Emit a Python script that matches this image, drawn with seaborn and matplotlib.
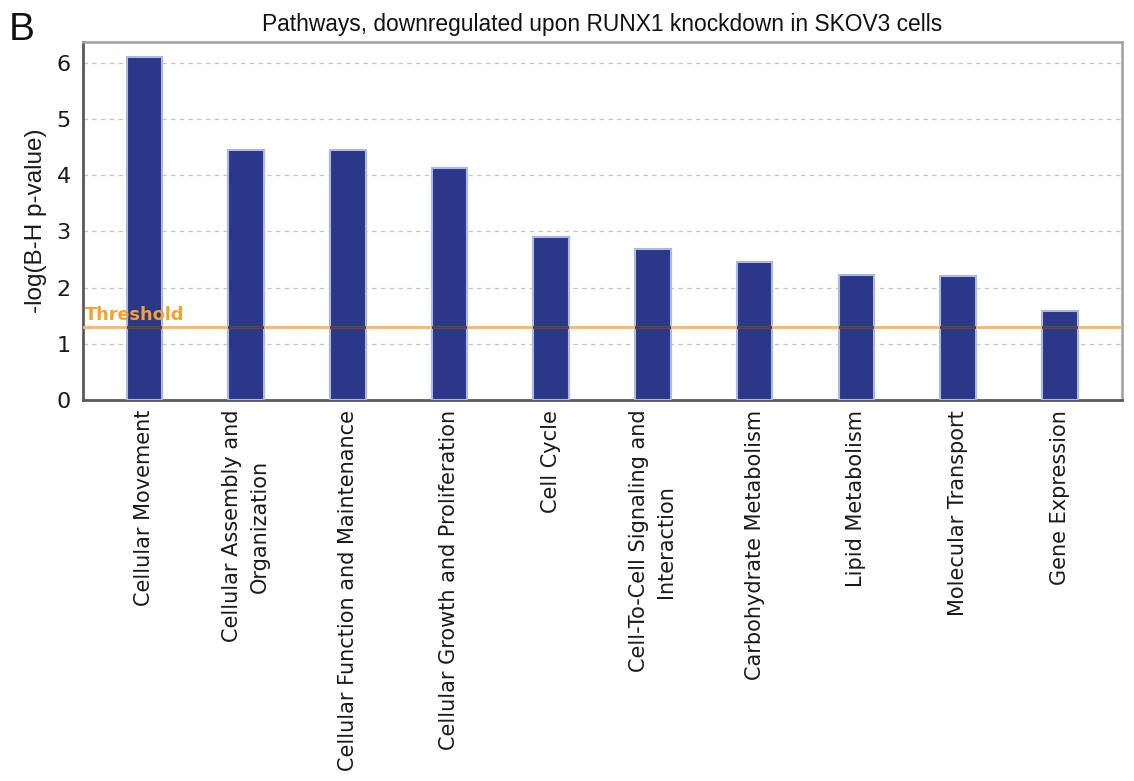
import matplotlib
matplotlib.use("Agg")
import matplotlib.pyplot as plt
import seaborn as sns
import pandas as pd

# Enriched functional categories and their -log10(B-H adjusted p-value)
categories = [
    "Cellular Movement",
    "Cellular Assembly and\nOrganization",
    "Cellular Function and Maintenance",
    "Cellular Growth and Proliferation",
    "Cell Cycle",
    "Cell-To-Cell Signaling and\nInteraction",
    "Carbohydrate Metabolism",
    "Lipid Metabolism",
    "Molecular Transport",
    "Gene Expression",
]
neg_log_p = [6.10, 4.45, 4.45, 4.12, 2.90, 2.69, 2.45, 2.22, 2.21, 1.59]
threshold = 1.30
y_ticks = [0, 1, 2, 3, 4, 5, 6]

title = "Pathways, downregulated upon RUNX1 knockdown in SKOV3 cells"
y_label = "-log(B-H p-value)"
panel = "B"

sns.set_theme(style="white")
plt.rcParams["font.family"] = ["DejaVu Sans"]

df = pd.DataFrame({"category": categories, "value": neg_log_p})

fig = plt.figure(figsize=(11.34, 7.81), dpi=100)
ax = fig.add_axes([0.0735, 0.4878, 0.9157, 0.4588])

sns.barplot(data=df, x="category", y="value", ax=ax, width=0.35,
            color="#2b3788", saturation=1, edgecolor="#a9b8e6",
            linewidth=1.5, zorder=3)

ax.set_xlim(-0.60, 9.61)
ax.set_ylim(0, 6.375)
ax.set_yticks(y_ticks)
ax.set_yticklabels([str(t) for t in y_ticks], fontsize=16, color="#1a1a1a")
ax.tick_params(axis="y", length=0, pad=9)
ax.tick_params(axis="x", length=0, pad=7)

ax.set_xticks(range(len(categories)))
ax.set_xticklabels(categories, rotation=90, ha="center", va="top",
                   multialignment="center", fontsize=15, linespacing=1.45,
                   color="#1a1a1a")
ax.set_xlabel("")
ax.set_ylabel(y_label, fontsize=17.5, family=["Liberation Sans"],
              color="#1a1a1a", labelpad=7)

# dashed horizontal gridlines
for t in y_ticks[1:]:
    ax.axhline(t, color="#c4c4c4", lw=0.9, ls=(0, (3.5, 3.5)), zorder=1)

# significance threshold
ax.axhline(threshold, color="#fdb55e", lw=2.0, zorder=4)
for bar in ax.patches:
    over = ax.axhline(threshold, color="#4e3f3a", lw=2.0, zorder=5)
    over.set_clip_path(bar)
ax.text(0.001, threshold + 0.05, "Threshold", transform=ax.get_yaxis_transform(),
        color="#f7a030", fontsize=12.7, fontweight="bold", ha="left",
        va="bottom", zorder=6)

for side in ("left", "bottom"):
    ax.spines[side].set_color("#5a5a5a")
    ax.spines[side].set_linewidth(2.0)
for side in ("top", "right"):
    ax.spines[side].set_color("#a0a0a0")
    ax.spines[side].set_linewidth(1.8)

ax.set_title(title, fontsize=16.4, family=["Liberation Sans"], color="#111111",
             pad=8)
fig.text(9 / 1134, 1 - 40 / 781, panel, fontsize=28,
         family=["Liberation Sans"], color="#111111", va="baseline", ha="left")

fig.savefig("out.png", dpi=100)
